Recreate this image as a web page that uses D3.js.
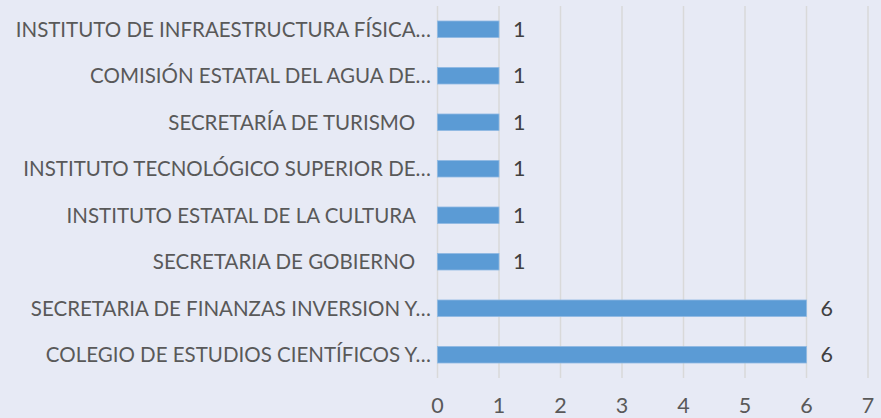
<!DOCTYPE html>
<html>
<head>
<meta charset="utf-8">
<script src="https://cdn.jsdelivr.net/npm/d3@7"></script>
<style>
html,body{margin:0;padding:0;background:#E7EAF5;}
svg{display:block;}
text{font-family:Lato,"Open Sans",sans-serif;fill:#595959;}
</style>
</head>
<body>
<svg id="chart" width="881" height="418"></svg>
<script>
const categories = [
  "INSTITUTO DE INFRAESTRUCTURA FÍSICA…",
  "COMISIÓN ESTATAL DEL AGUA DE…",
  "SECRETARÍA DE TURISMO   ",
  "INSTITUTO TECNOLÓGICO SUPERIOR DE…",
  "INSTITUTO ESTATAL DE LA CULTURA   ",
  "SECRETARIA DE GOBIERNO   ",
  "SECRETARIA DE FINANZAS INVERSION Y…",
  "COLEGIO DE ESTUDIOS CIENTÍFICOS Y…"
];
const values = [1, 1, 1, 1, 1, 1, 6, 6];
const xTicks = [0, 1, 2, 3, 4, 5, 6, 7];

const svg = d3.select("#chart");
const mLeft = 437.5, mRight = 868, mTop = 6, mBottom = 378;
const fs = 20.5, fsNum = 21.5;

const x = d3.scaleLinear().domain([0, 7]).range([mLeft, mRight]);
const y = d3.scaleBand().domain(categories).range([mTop, mBottom])
  .paddingInner(0.645).paddingOuter(0.3225);

// gridlines
svg.append("g").selectAll("line").data(xTicks).join("line")
  .attr("x1", d => x(d)).attr("x2", d => x(d))
  .attr("y1", mTop).attr("y2", mBottom)
  .attr("stroke", "#D9D9D9").attr("stroke-width", 1.5);

// bars
svg.append("g").selectAll("rect").data(values).join("rect")
  .attr("x", x(0))
  .attr("y", (d, i) => y(categories[i]))
  .attr("width", d => x(d) - x(0))
  .attr("height", y.bandwidth())
  .attr("fill", "#5B9BD5")
  .attr("stroke", "#8FB9E3").attr("stroke-width", 0.8);

// value labels
svg.append("g").selectAll("text").data(values).join("text")
  .attr("x", d => x(d) + 14)
  .attr("y", (d, i) => y(categories[i]) + y.bandwidth() / 2)
  .attr("dy", "0.36em")
  .attr("font-size", fsNum)
  .style("fill", "#404040")
  .text(d => d);

// category labels
svg.append("g").selectAll("text").data(categories).join("text")
  .attr("x", 431)
  .attr("y", d => y(d) + y.bandwidth() / 2)
  .attr("dy", "0.36em")
  .attr("text-anchor", "end")
  .attr("font-size", fs)
  .style("white-space", "pre")
  .text(d => d);

// x tick labels
svg.append("g").selectAll("text").data(xTicks).join("text")
  .attr("x", d => x(d))
  .attr("y", 413)
  .attr("text-anchor", "middle")
  .attr("font-size", fsNum)
  .text(d => d);
</script>
</body>
</html>
